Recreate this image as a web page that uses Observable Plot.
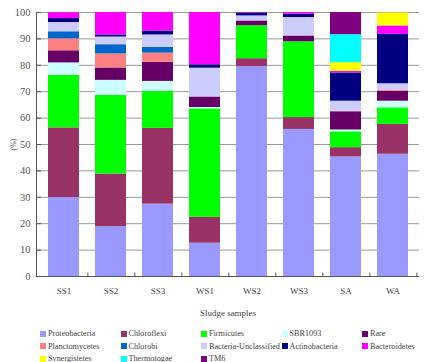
<!DOCTYPE html>
<html>
<head>
<meta charset="utf-8">
<script src="https://cdn.jsdelivr.net/npm/d3@7"></script>
<script src="https://cdn.jsdelivr.net/npm/@observablehq/plot@0.6"></script>
<style>
  body { margin: 0; background: white; font-family: "Liberation Serif", serif; }
  #chart svg { display: block; }
  #legend { display: grid; grid-template-columns: repeat(5, 80.5px); padding-left: 40px; padding-top: 6px; font-size: 8.2px; color: #444; }
  #legend div { height: 12.6px; line-height: 12.6px; white-space: nowrap; }
  #legend span.sw { display: inline-block; width: 6px; height: 6px; margin-right: 2px; vertical-align: -0.5px; }
</style>
</head>
<body>
<div id="chart"></div>
<div id="legend"></div>
<script>
const samples = ["SS1", "SS2", "SS3", "WS1", "WS2", "WS3", "SA", "WA"];
const taxa = ["Proteobacteria", "Chloroflexi", "Firmicutes", "SBR1093", "Rare",
  "Planctomycetes", "Chlorobi", "Bacteria-Unclassified", "Actinobacteria", "Bacteroidetes",
  "Synergistetes", "Thermotogae", "TM6"];
const colors = ["#9999ff", "#993366", "#00ff00", "#ccffff", "#660066",
  "#ff8080", "#0066cc", "#ccccff", "#000080", "#ff00ff",
  "#ffff00", "#00ffff", "#800080"];
const yTicks = [0, 10, 20, 30, 40, 50, 60, 70, 80, 90, 100];

const proteobacteria = [29.9, 18.9, 27.4, 12.6, 79.5, 55.7, 45.3, 46.3];
const chloroflexi    = [26.4, 19.9, 28.7, 9.8, 3.0, 4.5, 3.5, 11.3];
const firmicutes     = [19.9, 29.8, 14.1, 41.1, 12.5, 28.7, 6.0, 6.3];
const sbr1093        = [4.7, 5.7, 3.7, 0.5, 0, 0, 0.7, 2.5];
const rare           = [4.6, 4.7, 7.2, 4.0, 1.8, 2.2, 6.9, 3.8];
const planctomycetes = [4.5, 5.3, 3.5, 0, 0, 0, 0.2, 0.4];
const chlorobi       = [2.7, 3.5, 2.2, 0, 0, 0, 0, 0];
const bactUnclass    = [3.5, 2.9, 4.7, 10.9, 1.9, 7.0, 3.8, 2.4];
const actinobacteria = [1.5, 0.8, 1.5, 1.3, 1.1, 1.3, 10.7, 18.7];
const bacteroidetes  = [2.2, 8.5, 7.0, 19.8, 0.2, 0.6, 0.6, 3.2];
const synergistetes  = [0, 0, 0, 0, 0, 0, 3.3, 4.9];
const thermotogae    = [0, 0, 0, 0, 0, 0, 10.6, 0];
const tm6            = [0, 0, 0, 0, 0, 0, 8.4, 0];

const series = [proteobacteria, chloroflexi, firmicutes, sbr1093, rare, planctomycetes,
  chlorobi, bactUnclass, actinobacteria, bacteroidetes, synergistetes, thermotogae, tm6];

const rows = [];
samples.forEach((s, i) => {
  taxa.forEach((t, j) => rows.push({sample: s, taxon: t, value: series[j][i]}));
});

const chart = Plot.plot({
  width: 427,
  height: 322,
  marginLeft: 36,
  marginRight: 8,
  marginTop: 12,
  marginBottom: 46,
  style: {fontFamily: "Liberation Serif, serif", background: "white"},
  x: {domain: samples, paddingInner: 0.35, paddingOuter: 0.19, label: null},
  y: {domain: [0, 100], label: null},
  color: {domain: taxa, range: colors},
  marks: [
    Plot.ruleY(yTicks.filter(d => d > 0), {stroke: "#999", strokeWidth: 1}),
    Plot.barY(rows, {x: "sample", y: "value", fill: "taxon", z: "taxon", order: null}),
    Plot.ruleY([0], {stroke: "#555"}),
    Plot.frame({anchor: "left", stroke: "#555"}),
    Plot.ruleX(samples, {x: d => d, y1: 0, y2: 1.3, dx: 23.85, stroke: "#555"}),
    Plot.axisY({ticks: yTicks, tickSize: -5, tickPadding: 11, fontSize: 10.5, color: "#555", label: null}),
    Plot.axisY({ticks: [], label: "(%)", labelArrow: false, labelAnchor: "center", labelOffset: 26, fontSize: 8, color: "#555"}),
    Plot.axisX({tickSize: 0, tickPadding: 11, fontSize: 9, color: "#444", label: "Sludge samples", labelArrow: false, labelAnchor: "center", labelOffset: 39})
  ]
});
document.getElementById("chart").appendChild(chart);

const legend = document.getElementById("legend");
taxa.forEach((t, j) => {
  const d = document.createElement("div");
  const sw = document.createElement("span");
  sw.className = "sw";
  sw.style.background = colors[j];
  d.appendChild(sw);
  d.appendChild(document.createTextNode(t));
  legend.appendChild(d);
});
</script>
</body>
</html>
